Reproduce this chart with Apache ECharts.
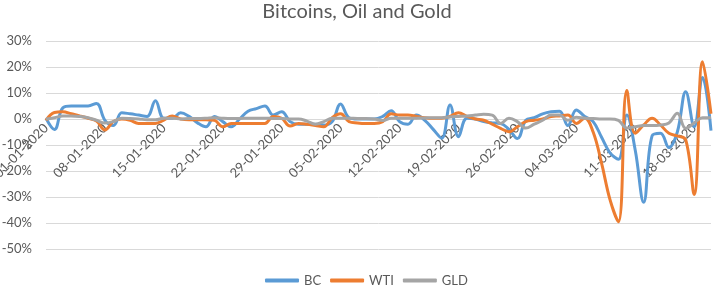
<!DOCTYPE html>
<html>
<head>
<meta charset="utf-8">
<script src="https://cdn.jsdelivr.net/npm/echarts@6/dist/echarts.min.js"></script>
<style>
  html, body { margin: 0; padding: 0; background: #fff; }
  #chart { width: 714px; height: 286px; }
</style>
</head>
<body>
<div id="chart"></div>
<script>
// daily dates 01-01-2020 .. 20-03-2020
const startDay = new Date(Date.UTC(2020, 0, 1));
const dayCount = 80;
const dates = [];
for (let i = 0; i < dayCount; i++) {
  const d = new Date(startDay.getTime() + i * 86400000);
  const dd = String(d.getUTCDate()).padStart(2, "0");
  const mm = String(d.getUTCMonth() + 1).padStart(2, "0");
  dates.push(`${dd}-${mm}-${d.getUTCFullYear()}`);
}

const bcReturns = [
  0.3, -4, 4.3, 5, 5, 5, 6, -0.5, -2.5, 2.4,
  2, 1.5, 1, 7, 0.3, 0.3, 2.4, 1, -1.5, -3,
  1, -1, -3, 0, 3, 4, 5, 1.5, 2.8, -1,
  -2, -2, -2, -2.3, -1, 5.8, 0.5, 0, 0, 0,
  1, 3.2, -1, -2, 1.5, -0.5, -4, -7.4, 5.4, -6.8,
  0.3, 0, -1, -1.5, -1.7, -4, -7.5, -0.5, 0.5, 2,
  2.8, 3, -2.5, 3.5, 1, -1, -7, -13, -15.5, 1.5,
  -12, -32, -6.5, -5.5, -11, -5, 10.5, -3, 16, -4.5,
];

const wtiReturns = [
  -0.5, 2.5, 2.8, 2, 1.2, 0.3, -0.8, -4.2, -1, 0,
  -0.5, -1.7, -1.7, -1.7, -0.4, 1.2, 0, -0.3, -0.3, -0.3,
  -0.5, -3, -1.7, -1.7, -1.7, -1.7, -1.7, 1, 0.3, -2.7,
  -1.7, -2, -2.5, -3, 0.5, 2, -1, -1.5, -1.7, -1.7,
  -1, 2, 1.5, 1.5, 1, 0.5, 0.3, 0.3, 1, 2.4,
  1, 0, -0.5, -2, -3.6, -4.9, -3, -1, -0.5, 0,
  1, 1.2, 1.5, -1.7, 0.3, -5, -17, -31, -39.5, 11,
  -5.5, -2.3, 0.3, -2.3, -5.5, -6.5, -8, -29, 22, 2,
];

const gldReturns = [
  0, 0.5, 1.2, 1.2, 1, 0.5, -0.5, -1.5, -1, 0.3,
  0.2, 0, -0.3, -0.3, 0.3, 0.3, 0, 0.2, 0.2, 0.3,
  0.5, 0.3, 0.2, 0.2, 0.3, 0.3, 0.3, 0.2, 0.2, 0,
  0, -0.8, -2, -1, 0.3, 0.3, 0.3, 0.2, 0.2, 0,
  -0.6, 0.3, 0.3, 0.3, 0.3, 0.4, 0.5, 0.5, 0.8, 1,
  1.2, 1.5, 1.8, 1.5, -1.7, 0.3, -1, -3.5, -2, -0.5,
  1.5, 1.5, -0.5, 0.7, 0.3, 0.2, 0, 0, -0.5, -3.5,
  -3, -2.5, -2.5, -2.3, -1.5, 2.2, -3.6, -1.5, 0.5, 0.5,
];

const yTicks = { min: -50, max: 30, step: 10 };

const textColor = "#595959";
const font = "Lato, 'Open Sans', sans-serif";
const gridTop = 41;
const gridBottom = 37;
const plotHeight = 286 - gridTop - gridBottom;
// horizontal axis sits on the 0% line, like the Excel original
const zeroOffset = -plotHeight * (0 - yTicks.min) / (yTicks.max - yTicks.min);

const chart = echarts.init(document.getElementById("chart"), null, { renderer: "canvas" });
chart.setOption({
  animation: false,
  color: ["#5B9BD5", "#ED7D31", "#A5A5A5"],
  title: {
    text: "Bitcoins, Oil and Gold",
    left: "center",
    top: -3,
    textStyle: { fontFamily: font, fontSize: 20, fontWeight: "normal", color: textColor },
  },
  grid: { left: 46, right: 3, top: gridTop, bottom: gridBottom, containLabel: false, outerBoundsMode: "none" },
  legend: {
    bottom: -1,
    left: 265,
    padding: 0,
    icon: "roundRect",
    itemWidth: 34,
    itemHeight: 4,
    itemGap: 9,
    textStyle: { fontFamily: font, fontSize: 13, color: textColor },
    data: ["BC", "WTI", "GLD"],
  },
  xAxis: {
    type: "category",
    data: dates,
    boundaryGap: false,
    offset: zeroOffset,
    axisLine: { onZero: false, lineStyle: { color: "#d9d9d9", width: 1 } },
    axisTick: { show: false },
    axisLabel: {
      interval: 6,
      rotate: 45,
      margin: 7,
      fontFamily: font,
      fontSize: 13,
      color: textColor,
    },
    splitLine: { show: false },
  },
  yAxis: {
    type: "value",
    min: yTicks.min,
    max: yTicks.max,
    interval: yTicks.step,
    axisLine: { show: false },
    axisTick: { show: false },
    axisLabel: {
      formatter: "{value}%",
      margin: 14,
      fontFamily: font,
      fontSize: 13,
      color: textColor,
    },
    splitLine: { lineStyle: { color: "#d9d9d9", width: 1 } },
  },
  series: [
    { name: "BC", type: "line", data: bcReturns, smooth: 0.4, symbol: "none", lineStyle: { width: 3 } },
    { name: "WTI", type: "line", data: wtiReturns, smooth: 0.4, symbol: "none", lineStyle: { width: 3 } },
    { name: "GLD", type: "line", data: gldReturns, smooth: 0.4, symbol: "none", lineStyle: { width: 3 } },
  ],
});
</script>
</body>
</html>
